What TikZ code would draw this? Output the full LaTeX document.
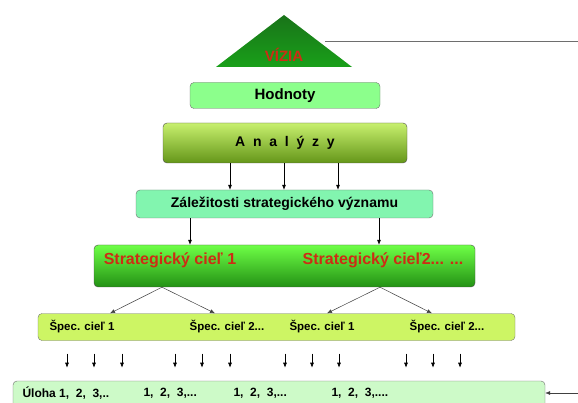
\documentclass[tikz,border=0pt]{standalone}
\usepackage{fontspec}
\setmainfont{Liberation Sans}
\usetikzlibrary{arrows.meta}

\definecolor{vizdark}{RGB}{25,115,25}
\definecolor{vizmid}{RGB}{10,200,10}
\definecolor{vizlow}{RGB}{25,160,25}
\definecolor{vizred}{RGB}{205,45,20}
\definecolor{hodfill}{RGB}{140,255,140}
\definecolor{anatop}{RGB}{200,240,110}
\definecolor{anabot}{RGB}{100,150,25}
\definecolor{zalfill}{RGB}{130,245,175}
\definecolor{strtop}{RGB}{110,255,70}
\definecolor{strbot}{RGB}{35,145,20}
\definecolor{specfill}{RGB}{205,245,100}
\definecolor{ulofill}{RGB}{205,250,200}
\definecolor{boxline}{RGB}{110,110,110}

\begin{document}
\begin{tikzpicture}[x=1pt,y=-1pt,
  box/.style={draw=boxline, rounded corners=4pt, inner sep=0pt},
  arr/.style={-{Latex[length=5pt,width=4pt]}, black, line width=0.6pt},
  thin arr/.style={-{Latex[length=5pt,width=4pt]}, black!75, line width=0.5pt},
  title font/.style={font=\bfseries\fontsize{14}{16}\selectfont},
  red label/.style={font=\bfseries\fontsize{16}{18}\selectfont, text=vizred},
  vizia label/.style={font=\bfseries\fontsize{15}{17}\selectfont, text=vizred},
  small label/.style={font=\bfseries\fontsize{11.5}{13}\selectfont},
  task label/.style={font=\bfseries\fontsize{12}{14}\selectfont, anchor=west}
  ]
  \clip (0,0) rectangle (578,403);

  % vizia
  \shade[top color=vizdark, middle color=vizmid, bottom color=vizlow]
    (284,15) -- (352,67) -- (216,67) -- cycle;
  \node[vizia label] (vizia) at (284,55) {\textbf{VÍZIA}};
  \coordinate (vizr) at (325,41);
  \coordinate (vizend) at (578,41);
  \draw[boxline, line width=0.8pt] (vizr) -- (vizend);

  % boxes
  \node[box, fill=hodfill, minimum width=190, minimum height=26, font=\bfseries\fontsize{15}{17}\selectfont] (hod) at (285,95.5) {Hodnoty};
  \node[box, draw=black!70, top color=anatop, bottom color=anabot, minimum width=244, minimum height=40, title font] (ana) at (285,143) {A\ \ n\ \ a\ \ l\ \ ý\ \ z\ \ y};
  \node[box, fill=zalfill, minimum width=297, minimum height=28, title font] (zal) at (284.5,204) {Záležitosti strategického významu};
  \node[box, draw=black!70, top color=strtop, bottom color=strbot, minimum width=381, minimum height=42] (str) at (284.5,266) {};
  \node[red label] (str1) at (170,260) {Strategický cieľ 1};
  \node[red label] (str2) at (383,260) {Strategický cieľ2... ...};
  \node[box, draw=black!55, fill=specfill, minimum width=477, minimum height=27] (spec) at (276.5,327) {};
  \node[small label] (sp1) at (82,327) {Špec. cieľ 1};
  \node[small label] (sp2) at (227,327) {Špec. cieľ 2...};
  \node[small label] (sp3) at (322,327) {Špec. cieľ 1};
  \node[small label] (sp4) at (447,327) {Špec. cieľ 2...};
  \node[box, fill=ulofill, minimum width=532, minimum height=44] (ulo) at (279,403) {};
  \node[task label] (u1) at (19,393) {Úloha 1,\ \ 2,\ \ 3,..};
  \node[task label] (u2) at (140,393) {1,\ \ 2,\ \ 3,...};
  \node[task label] (u3) at (230,393) {1,\ \ 2,\ \ 3,...};
  \node[task label] (u4) at (328,393) {1,\ \ 2,\ \ 3,....};

  % connectors
  \foreach \x in {230,284,338}
    \draw[arr] (\x,0 |- ana.south) -- (\x,0 |- zal.north);
  \foreach \x in {190,379}
    \draw[arr] (\x,0 |- zal.south) -- (\x,0 |- str.north);
  \foreach \f/\t in {162/110,162/215,380/327,380/432}
    \draw[thin arr] (\f,0 |- str.south) -- (\t,0 |- spec.north);
  \foreach \x in {67,94,122,175,202,230,285,312,339,406,433,460}
    \draw[arr] ([yshift=-13pt]\x,0 |- spec.south) -- ++(0,14);
  \coordinate (uloin) at (578,393);
  \draw[thin arr] (uloin) -- (ulo.east |- uloin);
\end{tikzpicture}
\end{document}
